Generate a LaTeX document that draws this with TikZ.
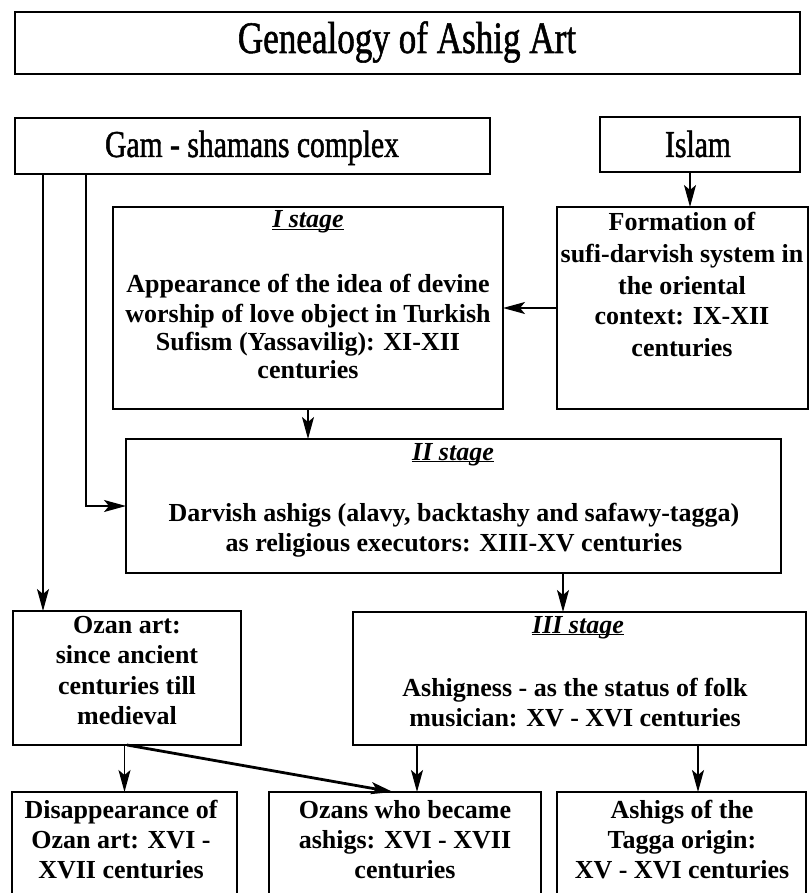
\documentclass[tikz,border=0pt]{standalone}
\usepackage{fontspec}
\setmainfont{Liberation Serif}
\newfontfamily\condfont[FakeStretch=0.78,FakeBold=1.2]{Liberation Serif}
\usetikzlibrary{arrows.meta}
\begin{document}
\begin{tikzpicture}[x=1pt,y=-1pt,
  box/.style={draw, line width=1.4pt, rectangle, inner sep=0pt, outer sep=0pt, anchor=north west},
  txt/.style={font=\fontsize{26}{30}\selectfont\bfseries, inner sep=0pt, anchor=base},
  stg/.style={font=\fontsize{26}{30}\selectfont\bfseries\itshape, inner sep=0pt, anchor=base},
  ttl/.style={font=\fontsize{45}{48}\selectfont\condfont, inner sep=0pt, anchor=base},
  big/.style={font=\fontsize{38}{40}\selectfont\condfont, inner sep=0pt, anchor=base},
  tip/.style={-{Stealth[length=22pt,width=12pt,inset=5pt]}},
  arr/.style={line width=1.4pt, tip},
  uline/.style={line width=1.1pt},
]
\clip (0,0) rectangle (809,893);
\useasboundingbox (0,0) rectangle (809,893);

% boxes
\node[box, minimum width=785pt, minimum height=62pt] (title) at (15,12) {};
\node[box, minimum width=475pt, minimum height=56pt] (gam) at (15,118) {};
\node[box, minimum width=200pt, minimum height=55pt] (islam) at (600,117) {};
\node[box, minimum width=390pt, minimum height=202pt] (s1) at (113,207) {};
\node[box, minimum width=251pt, minimum height=202pt] (form) at (557,207) {};
\node[box, minimum width=655pt, minimum height=134pt] (s2) at (126,439) {};
\node[box, minimum width=228pt, minimum height=134pt] (ozan) at (13,611) {};
\node[box, minimum width=453pt, minimum height=133pt] (s3) at (353,612) {};
\node[box, minimum width=225pt, minimum height=120pt] (b1) at (12,792) {};
\node[box, minimum width=272pt, minimum height=120pt] (b2) at (269,792) {};
\node[box, minimum width=249pt, minimum height=120pt] (b3) at (557,792) {};

% headings
\node[ttl] (tt) at (407,53) {Genealogy of Ashig Art};
\node[big] (gt) at (252,157) {Gam - shamans complex};
\node[big] (it) at (698,157) {Islam};

% stage labels
\node[stg] (l1) at (308,228) {I stage};
\node[stg] (l2) at (453,460) {II stage};
\node[stg] (l3) at (578,633) {III stage};
\draw[uline] ([yshift=-1.5pt]l1.base west) -- ([yshift=-1.5pt]l1.base east);
\draw[uline] ([yshift=-1.5pt]l2.base west) -- ([yshift=-1.5pt]l2.base east);
\draw[uline] ([yshift=-1.5pt]l3.base west) -- ([yshift=-1.5pt]l3.base east);

% I stage text
\node[txt] (a1) at (308,292) {Appearance of the idea of devine};
\node[txt] (a2) at (308,322) {worship of love object in Turkish};
\node[txt] (a3) at (308,350) {Sufism (Yassavilig): XI-XII};
\node[txt] (a4) at (308,378) {centuries};

% Formation text
\node[txt] (f1) at (682,231) {Formation of};
\node[txt] (f2) at (682,262) {sufi-darvish system in};
\node[txt] (f3) at (682,294) {the oriental};
\node[txt] (f4) at (682,324) {context: IX-XII};
\node[txt] (f5) at (682,356) {centuries};

% II stage text
\node[txt] (d1) at (454,521) {Darvish ashigs (alavy, backtashy and safawy-tagga)};
\node[txt] (d2) at (454,551) {as religious executors: XIII-XV centuries};

% Ozan text
\node[txt] (o1) at (127,633) {Ozan art:};
\node[txt] (o2) at (127,663) {since ancient};
\node[txt] (o3) at (127,694) {centuries till};
\node[txt] (o4) at (127,724) {medieval};

% III stage text
\node[txt] (h1) at (575,696) {Ashigness - as the status of folk};
\node[txt] (h2) at (575,726) {musician: XV - XVI centuries};

% bottom texts
\node[txt] (p1) at (121,818) {Disappearance of};
\node[txt] (p2) at (121,848) {Ozan art: XVI -};
\node[txt] (p3) at (121,878) {XVII centuries};
\node[txt] (q1) at (405,818) {Ozans who became};
\node[txt] (q2) at (405,848) {ashigs: XVI - XVII};
\node[txt] (q3) at (405,878) {centuries};
\node[txt] (r1) at (682,818) {Ashigs of the};
\node[txt] (r2) at (682,848) {Tagga origin:};
\node[txt] (r3) at (682,878) {XV - XVI centuries};

% connectors
\draw[arr] ([xshift=-10pt]islam.south) -- ([xshift=-10pt]islam.south |- form.north);
\draw[arr] (form.west) -- (s1.east);
\draw[arr] (s1.south) -- (s1.south |- s2.north);
\draw[arr] ([xshift=28pt]gam.south west) -- ([xshift=28pt]gam.south west |- ozan.north);
\draw[arr] ([xshift=71pt]gam.south west) |- (s2.west);
\draw[arr] ([xshift=-16.5pt]s3.north |- s2.south) -- ([xshift=-16.5pt]s3.north);
\draw[arr] (b1.north |- ozan.south) -- (b1.north);
\draw[line width=2.8pt, tip] (ozan.south) -- ([xshift=-12pt]b2.north);
\draw[arr] ([xshift=12pt]b2.north |- s3.south) -- ([xshift=12pt]b2.north);
\draw[arr] ([xshift=16.5pt]b3.north |- s3.south) -- ([xshift=16.5pt]b3.north);
\end{tikzpicture}
\end{document}
